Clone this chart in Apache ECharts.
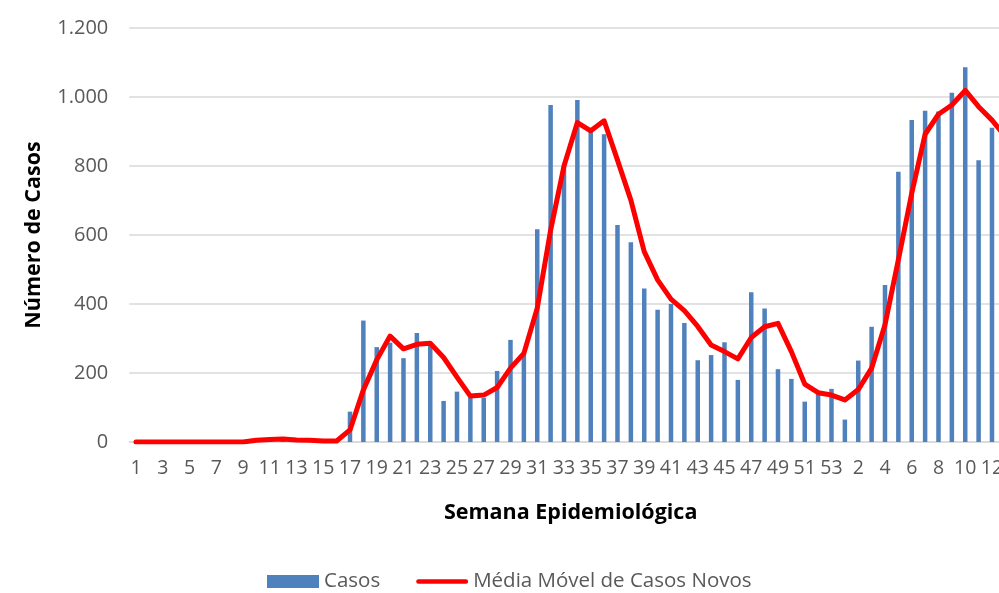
<!DOCTYPE html>
<html>
<head>
<meta charset="utf-8">
<script src="https://cdn.jsdelivr.net/npm/echarts@6/dist/echarts.min.js"></script>
<style>
  html, body { margin: 0; padding: 0; background: #fff; }
  #chart { width: 999px; height: 593px; }
</style>
</head>
<body>
<div id="chart"></div>
<script>
// Epidemiological weeks: 1–53 of the first year, then 1–13 of the next
const semanas = [
  1, 2, 3, 4, 5, 6, 7, 8, 9, 10, 11, 12, 13, 14, 15, 16, 17, 18, 19, 20,
  21, 22, 23, 24, 25, 26, 27, 28, 29, 30, 31, 32, 33, 34, 35, 36, 37, 38, 39, 40,
  41, 42, 43, 44, 45, 46, 47, 48, 49, 50, 51, 52, 53,
  1, 2, 3, 4, 5, 6, 7, 8, 9, 10, 11, 12, 13
];

// Weekly new cases
const casos = [
  0, 0, 0, 0, 0, 0, 0, 0, 0, 4, 10, 9, 2, 5, 1, 3, 88, 352, 275, 288,
  243, 316, 288, 119, 146, 130, 128, 206, 296, 255, 617, 977, 800, 991, 900, 892, 629, 579, 445, 383,
  400, 345, 237, 252, 289, 180, 434, 387, 211, 183, 117, 140, 154,
  65, 236, 334, 455, 783, 933, 960, 958, 1012, 1086, 817, 911, null
];

// Moving average of new cases
const mediaMovel = [
  0, 0, 0, 0, 0, 0, 0, 0, 0, 5, 7, 9, 6, 5, 3, 3, 35, 151, 238, 307,
  270, 283, 286, 245, 188, 133, 136, 158, 214, 257, 388, 614, 800, 926, 902, 931, 817, 701, 552, 470,
  414, 381, 335, 281, 262, 241, 303, 334, 344, 262, 168, 143, 136,
  122, 152, 214, 340, 528, 721, 892, 950, 977, 1019, 972, 933, 885
];

const FONT = '"Open Sans", sans-serif';
const fmtMilhar = v => String(v).replace(/\B(?=(\d{3})+(?!\d))/g, '.');

// Thick rounded stroke used as the moving-average legend key
const ICONE_LINHA = 'path://M2.5,0 H52.5 A2.5,2.5 0 0 1 52.5,5 H2.5 A2.5,2.5 0 0 1 2.5,0 Z';

const chart = echarts.init(document.getElementById('chart'), null, { renderer: 'canvas' });

chart.setOption({
  animation: false,
  backgroundColor: '#ffffff',
  textStyle: { fontFamily: FONT },
  grid: {
    left: 129.3,
    top: 28,
    width: 13.375 * semanas.length,
    height: 414,
    outerBoundsMode: 'none',
    containLabel: false
  },
  legend: {
    left: 267,
    top: 571,
    padding: 0,
    itemWidth: 52,
    itemHeight: 13,
    itemGap: 36,
    textStyle: { fontFamily: FONT, fontSize: 20.5, color: '#595959' },
    data: [
      { name: 'Casos', icon: 'rect' },
      { name: 'Média Móvel de Casos Novos', icon: ICONE_LINHA }
    ]
  },
  xAxis: {
    type: 'category',
    data: semanas,
    boundaryGap: true,
    name: 'Semana Epidemiológica',
    nameLocation: 'middle',
    nameGap: 60,
    nameTextStyle: { fontFamily: FONT, fontSize: 21.5, fontWeight: 'bold', color: '#000000' },
    axisLine: { show: true, lineStyle: { color: '#D9D9D9', width: 1.5 } },
    axisTick: { show: false },
    axisLabel: {
      interval: 1,
      margin: 16,
      fontFamily: FONT,
      fontSize: 19.5,
      color: '#595959'
    },
    splitLine: { show: false }
  },
  yAxis: {
    type: 'value',
    min: 0,
    max: 1200,
    interval: 200,
    name: 'Número de Casos',
    nameLocation: 'middle',
    nameGap: 84,
    nameRotate: 90,
    nameTextStyle: { fontFamily: FONT, fontSize: 21.5, fontWeight: 'bold', color: '#000000' },
    axisLine: { show: false },
    axisTick: { show: false },
    axisLabel: {
      margin: 21,
      fontFamily: FONT,
      fontSize: 20,
      color: '#595959',
      formatter: fmtMilhar
    },
    splitLine: { show: true, lineStyle: { color: '#D9D9D9', width: 1.5 } }
  },
  series: [
    {
      name: 'Casos',
      type: 'bar',
      data: casos,
      barWidth: 4.5,
      itemStyle: { color: '#4F81BD' },
      z: 2
    },
    {
      name: 'Média Móvel de Casos Novos',
      type: 'line',
      data: mediaMovel,
      symbol: 'none',
      smooth: false,
      lineStyle: { color: '#FF0000', width: 5, join: 'round', cap: 'round' },
      itemStyle: { color: '#FF0000' },
      z: 3
    }
  ]
});
</script>
</body>
</html>
